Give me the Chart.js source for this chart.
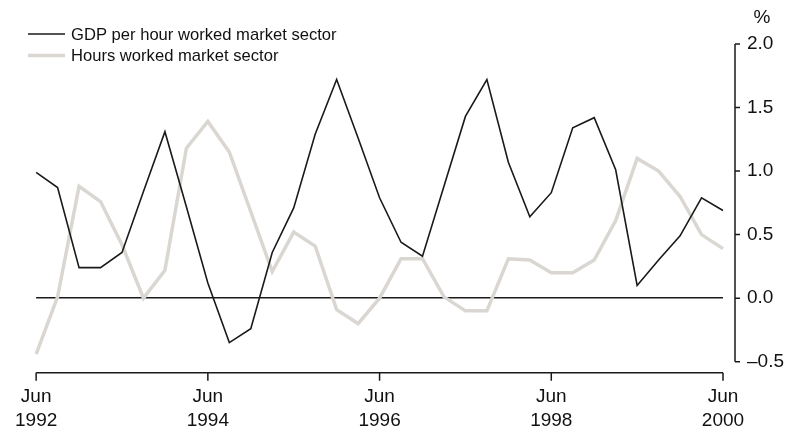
<!DOCTYPE html>
<html>
<head>
<meta charset="utf-8">
<script src="https://cdn.jsdelivr.net/npm/chart.js@4"></script>
<style>
    body { margin: 0; background: #fff; }
    #wrap { width: 791px; height: 432px; position: relative; }
</style>
</head>
<body>
<div id="wrap"><canvas id="productivityChart"></canvas></div>
<script>
const quarters = [
    'Jun 1992', 'Sep 1992', 'Dec 1992', 'Mar 1993', 'Jun 1993', 'Sep 1993', 'Dec 1993', 'Mar 1994',
    'Jun 1994', 'Sep 1994', 'Dec 1994', 'Mar 1995', 'Jun 1995', 'Sep 1995', 'Dec 1995', 'Mar 1996',
    'Jun 1996', 'Sep 1996', 'Dec 1996', 'Mar 1997', 'Jun 1997', 'Sep 1997', 'Dec 1997', 'Mar 1998',
    'Jun 1998', 'Sep 1998', 'Dec 1998', 'Mar 1999', 'Jun 1999', 'Sep 1999', 'Dec 1999', 'Mar 2000',
    'Jun 2000',
];

const gdpPerHour = [
    0.99, 0.87, 0.24, 0.24, 0.36, 0.84, 1.31, 0.72,
    0.12, -0.35, -0.24, 0.36, 0.71, 1.29, 1.72, 1.26,
    0.79, 0.44, 0.33, 0.88, 1.43, 1.72, 1.07, 0.64,
    0.83, 1.34, 1.42, 1.01, 0.10, 0.30, 0.49, 0.79,
    0.69,
];

const hoursWorked = [
    -0.44, 0.01, 0.88, 0.76, 0.42, 0.00, 0.22, 1.18,
    1.39, 1.15, 0.68, 0.21, 0.52, 0.41, -0.09, -0.20,
    0.00, 0.31, 0.31, 0.01, -0.10, -0.10, 0.31, 0.30,
    0.20, 0.20, 0.30, 0.61, 1.10, 1.00, 0.80, 0.50,
    0.39,
];

const seriesNames = ['GDP per hour worked market sector', 'Hours worked market sector'];
const yTicks = [-0.5, 0.0, 0.5, 1.0, 1.5, 2.0];
const unitLabel = '%';

const FONT = '"Liberation Sans", Arial, sans-serif';
const INK = '#1a1a1a';
const GREY = '#dad7d2';

Chart.defaults.font.family = FONT;
Chart.defaults.color = '#111';

// axis lines sit a little away from the plot, so draw them ourselves
const detachedAxes = {
    id: 'detachedAxes',
    afterDraw(chart) {
        const { ctx, chartArea } = chart;
        const xs = chart.scales.x;
        const ys = chart.scales.y;
        const axisX = chartArea.right + 12;
        const axisY = chartArea.bottom + 11;

        ctx.save();
        ctx.strokeStyle = INK;
        ctx.lineWidth = 1.5;

        ctx.beginPath();
        ctx.moveTo(axisX, ys.getPixelForValue(yTicks[yTicks.length - 1]));
        ctx.lineTo(axisX, ys.getPixelForValue(yTicks[0]));
        yTicks.forEach((v) => {
            const py = ys.getPixelForValue(v);
            ctx.moveTo(axisX, py);
            ctx.lineTo(axisX + 5, py);
        });
        ctx.stroke();

        ctx.beginPath();
        ctx.moveTo(xs.getPixelForValue(0), axisY);
        ctx.lineTo(xs.getPixelForValue(quarters.length - 1), axisY);
        quarters.forEach((q, i) => {
            if (i % 8 === 0) {
                const px = xs.getPixelForValue(i);
                ctx.moveTo(px, axisY);
                ctx.lineTo(px, axisY + 8);
            }
        });
        ctx.stroke();

        ctx.fillStyle = '#111';
        ctx.font = '19px ' + FONT;
        ctx.textAlign = 'center';
        ctx.textBaseline = 'middle';
        ctx.fillText(unitLabel, axisX + 27, 18);

        // legend
        ctx.textAlign = 'left';
        ctx.font = '16.6px ' + FONT;
        chart.data.datasets.forEach((ds, i) => {
            const ly = 34 + i * 21.5;
            ctx.strokeStyle = ds.borderColor;
            ctx.lineWidth = ds.borderWidth;
            ctx.beginPath();
            ctx.moveTo(28, ly);
            ctx.lineTo(65, ly);
            ctx.stroke();
            ctx.fillStyle = '#111';
            ctx.fillText(ds.label, 71, ly + 1);
        });
        ctx.restore();
    },
};

new Chart(document.getElementById('productivityChart'), {
    type: 'line',
    data: {
        labels: quarters,
        datasets: [
            {
                label: seriesNames[0],
                data: gdpPerHour,
                borderColor: INK,
                borderWidth: 1.6,
                pointRadius: 0,
                tension: 0,
            },
            {
                label: seriesNames[1],
                data: hoursWorked,
                borderColor: GREY,
                borderWidth: 3.5,
                pointRadius: 0,
                tension: 0,
            },
        ],
    },
    options: {
        responsive: true,
        maintainAspectRatio: false,
        animation: false,
        layout: { padding: { left: 33, top: 44, right: 0, bottom: 0 } },
        plugins: {
            legend: { display: false },
            tooltip: { enabled: false },
        },
        scales: {
            x: {
                type: 'category',
                grid: { display: false },
                border: { display: false },
                ticks: {
                    autoSkip: false,
                    maxRotation: 0,
                    padding: 15,
                    color: '#111',
                    font: { size: 19, lineHeight: 1.27 },
                    callback: (value, index) => (index % 8 === 0 ? quarters[index].split(' ') : ''),
                },
                afterFit: (scale) => { scale.height = 70.3; },
            },
            y: {
                position: 'right',
                min: -0.5,
                max: 2.0,
                grid: {
                    drawTicks: false,
                    lineWidth: 1.5,
                    color: (ctx) => (ctx.tick && ctx.tick.value === 0 ? INK : 'rgba(0,0,0,0)'),
                },
                border: { display: false },
                ticks: {
                    stepSize: 0.5,
                    padding: 24,
                    color: '#111',
                    font: { size: 19 },
                    callback: (v) => (v < 0 ? '\u2013' : '') + Math.abs(v).toFixed(1),
                },
                afterFit: (scale) => { scale.width = 68; },
            },
        },
    },
    plugins: [detachedAxes],
});
</script>
</body>
</html>
